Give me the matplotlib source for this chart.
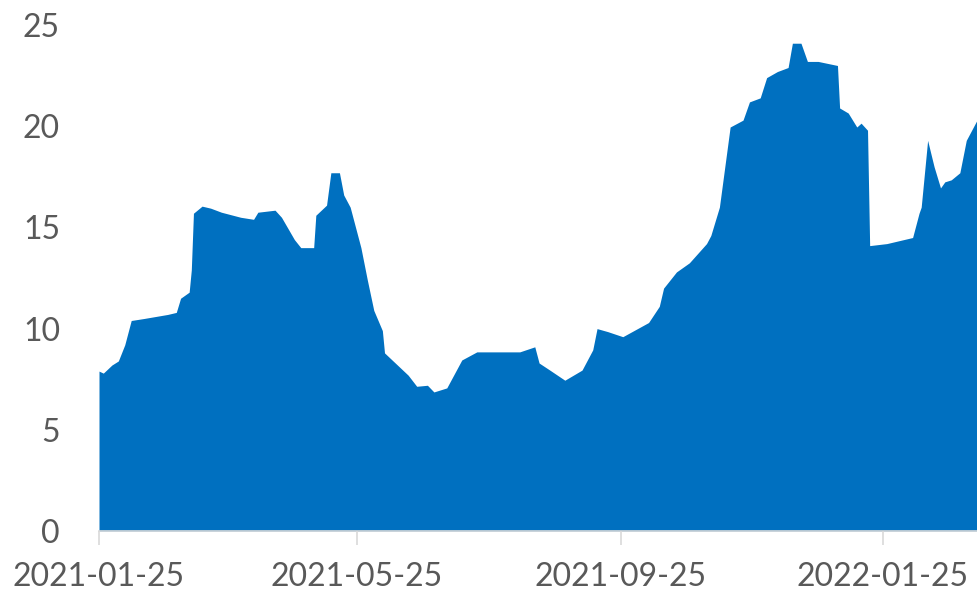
import numpy as np
import pandas as pd
import matplotlib
matplotlib.use("Agg")
import matplotlib.pyplot as plt
import matplotlib.dates as mdates

# values
dates = [
    "2021-01-25", "2021-01-27", "2021-01-31", "2021-02-03", "2021-02-06",
    "2021-02-09", "2021-02-15", "2021-02-26", "2021-03-02", "2021-03-04",
    "2021-03-08", "2021-03-09", "2021-03-10", "2021-03-14", "2021-03-18",
    "2021-03-23", "2021-04-01", "2021-04-07", "2021-04-09", "2021-04-17",
    "2021-04-20", "2021-04-23", "2021-04-26", "2021-04-29", "2021-05-05",
    "2021-05-06", "2021-05-11", "2021-05-13", "2021-05-17", "2021-05-19",
    "2021-05-22", "2021-05-27", "2021-05-30", "2021-06-02", "2021-06-06",
    "2021-06-07", "2021-06-12", "2021-06-18", "2021-06-22", "2021-06-27",
    "2021-06-30", "2021-07-06", "2021-07-13", "2021-07-20", "2021-08-09",
    "2021-08-16", "2021-08-18", "2021-08-23", "2021-08-30", "2021-09-07",
    "2021-09-12", "2021-09-14", "2021-09-19", "2021-09-26", "2021-10-08",
    "2021-10-13", "2021-10-15", "2021-10-21", "2021-10-27", "2021-11-04",
    "2021-11-06", "2021-11-10", "2021-11-15", "2021-11-21", "2021-11-24",
    "2021-11-29", "2021-12-02", "2021-12-07", "2021-12-12", "2021-12-14",
    "2021-12-18", "2021-12-21", "2021-12-26", "2022-01-04", "2022-01-05",
    "2022-01-09", "2022-01-13", "2022-01-15", "2022-01-18", "2022-01-19",
    "2022-01-27", "2022-02-08", "2022-02-11", "2022-02-12", "2022-02-15",
    "2022-02-18", "2022-02-21", "2022-02-23", "2022-02-26", "2022-03-02",
    "2022-03-05", "2022-03-10",
]
values = [
    7.9, 7.8, 8.2, 8.4, 9.2,
    10.4, 10.5, 10.7, 10.8, 11.5,
    11.8, 12.9, 15.7, 16.05, 15.95,
    15.75, 15.5, 15.4, 15.75, 15.85,
    15.5, 14.95, 14.4, 14.0, 14.0,
    15.6, 16.1, 17.7, 17.7, 16.6,
    16.0, 14.0, 12.4, 10.9, 9.9,
    8.8, 8.3, 7.7, 7.15, 7.2,
    6.87, 7.07, 8.45, 8.85, 8.85,
    9.1, 8.3, 7.95, 7.45, 7.95,
    8.95, 10.0, 9.85, 9.6, 10.3,
    11.1, 12.0, 12.8, 13.25, 14.2,
    14.6, 16.0, 19.96, 20.3, 21.2,
    21.4, 22.4, 22.7, 22.9, 24.1,
    24.1, 23.2, 23.2, 23.0, 20.9,
    20.65, 19.96, 20.15, 19.8, 14.1,
    14.2, 14.5, 15.7, 16.0, 19.3,
    18.0, 16.95, 17.25, 17.35, 17.7,
    19.3, 20.3,
]
tick_dates = ["2021-01-25", "2021-05-25", "2021-09-25", "2022-01-25"]
y_ticks = [0, 5, 10, 15, 20, 25]

x = pd.to_datetime(dates)
y = np.array(values)
ticks = pd.to_datetime(tick_dates)

text_color = "#595959"
fill_color = "#0070C0"
plt.rcParams["font.family"] = ["Lato", "DejaVu Sans"]

fig = plt.figure(figsize=(9.77, 6.03), dpi=100)
ax = fig.add_axes([99 / 977, 72 / 603, 878 / 977, 506 / 603])

ax.fill_between(x, 0, y, color=fill_color, linewidth=0)

ax.set_xlim(x[0], x[-1])
ax.set_ylim(0, 25)

ax.set_xticks(ticks)
ax.xaxis.set_major_formatter(mdates.DateFormatter("%Y-%m-%d"))
ax.set_yticks(y_ticks)

for s in ["top", "right", "left"]:
    ax.spines[s].set_visible(False)
ax.spines["bottom"].set_color("#d9d9d9")
ax.spines["bottom"].set_linewidth(1.2)

ax.tick_params(axis="x", colors="#d9d9d9", length=10, width=1.2, direction="out",
               labelcolor=text_color, labelsize=23, pad=12)
ax.tick_params(axis="y", length=0, labelcolor=text_color, labelsize=23, pad=28)

fig.savefig("out.png", dpi=100, facecolor="white")
